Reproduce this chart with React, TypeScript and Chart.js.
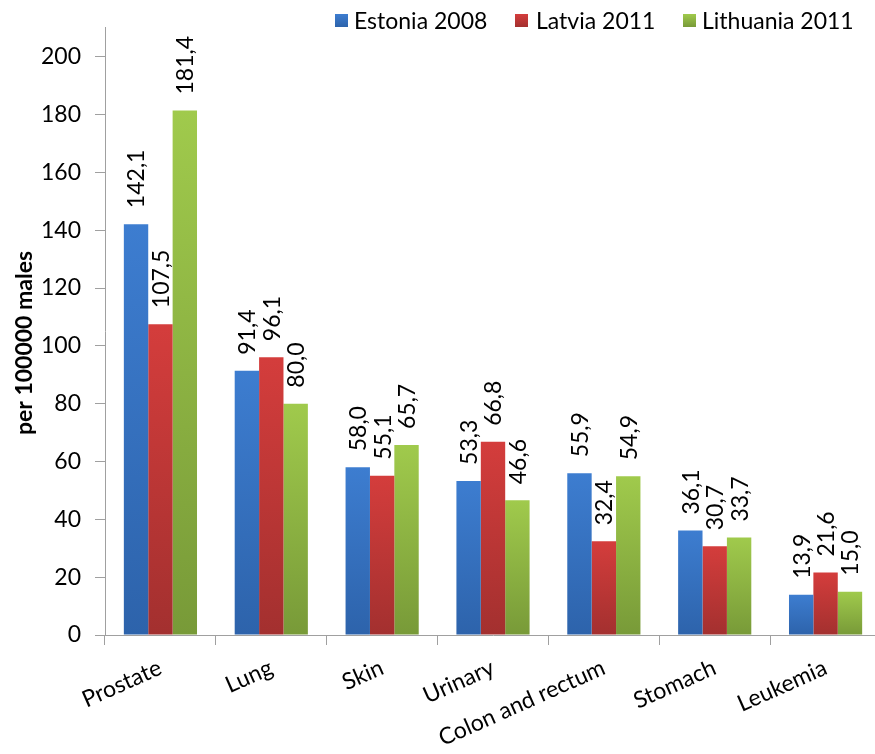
import React, { useEffect, useRef } from "react";
import { Chart, registerables } from "chart.js";

Chart.register(...registerables);

const categories = ["Prostate", "Lung", "Skin", "Urinary", "Colon and rectum", "Stomach", "Leukemia"];
const estonia2008 = [142.1, 91.4, 58.0, 53.3, 55.9, 36.1, 13.9];
const latvia2011 = [107.5, 96.1, 55.1, 66.8, 32.4, 30.7, 21.6];
const lithuania2011 = [181.4, 80.0, 65.7, 46.6, 54.9, 33.7, 15.0];
const seriesNames = ["Estonia 2008", "Latvia 2011", "Lithuania 2011"];
const yTitle = "per 100000 males";

const palettes = [
  { top: "#3d7dd0", bottom: "#2d63ab", mid: "#3570bd" },
  { top: "#d43d3c", bottom: "#a3302f", mid: "#c03636" },
  { top: "#a0ca4c", bottom: "#789a38", mid: "#8cb242" },
];

const FONT = "Lato, 'Open Sans', sans-serif";

function gradientFor(p: { top: string; bottom: string; mid: string }) {
  return (ctx: any) => {
    const chart = ctx.chart;
    if (!chart.chartArea || ctx.type !== "data" || !chart.scales.y) return p.mid;
    const y = chart.scales.y;
    const t = y.getPixelForValue(ctx.raw);
    const b = y.getPixelForValue(0);
    if (!isFinite(t) || !isFinite(b) || t === b) return p.mid;
    const g = chart.ctx.createLinearGradient(0, t, 0, b);
    g.addColorStop(0, p.top);
    g.addColorStop(1, p.bottom);
    return g;
  };
}

const valueLabels = {
  id: "valueLabels",
  afterDatasetsDraw(chart: any) {
    const ctx = chart.ctx;
    ctx.save();
    ctx.font = `23px ${FONT}`;
    ctx.fillStyle = "#000";
    ctx.textAlign = "left";
    ctx.textBaseline = "middle";
    chart.data.datasets.forEach((ds: any, di: number) => {
      const meta = chart.getDatasetMeta(di);
      meta.data.forEach((bar: any, i: number) => {
        const v = ds.data[i] as number;
        const txt = v.toFixed(1).replace(".", ",");
        ctx.save();
        ctx.translate(bar.x + 1, bar.y - 16);
        ctx.rotate(-Math.PI / 2);
        ctx.fillText(txt, 0, 0);
        ctx.restore();
      });
    });
    ctx.restore();
  },
};

const yTitlePlugin = {
  id: "yTitlePlugin",
  afterDraw(chart: any) {
    const ctx = chart.ctx;
    ctx.save();
    ctx.font = `bold 23px ${FONT}`;
    ctx.fillStyle = "#000";
    ctx.textAlign = "center";
    ctx.textBaseline = "middle";
    ctx.translate(25, 343);
    ctx.rotate(-Math.PI / 2);
    ctx.fillText(yTitle, 0, 0);
    ctx.restore();
  },
};

const legendPos = [
  { sq: 335, tx: 354 },
  { sq: 515, tx: 536 },
  { sq: 683, tx: 702 },
];

export default function App() {
  const ref = useRef<HTMLCanvasElement | null>(null);

  useEffect(() => {
    if (!ref.current) return;
    const series = [estonia2008, latvia2011, lithuania2011];
    const chart = new Chart(ref.current, {
      type: "bar",
      data: {
        labels: categories,
        datasets: series.map((d, i) => ({
          label: seriesNames[i],
          data: d,
          backgroundColor: gradientFor(palettes[i]),
          borderWidth: 0,
          categoryPercentage: 0.66,
          barPercentage: 1,
        })),
      },
      options: {
        responsive: false,
        animation: false,
        devicePixelRatio: 1,
        layout: { padding: { top: 24, right: 9, left: 0, bottom: 0 } },
        plugins: {
          legend: { display: false },
          tooltip: { enabled: false },
          title: { display: false },
        },
        scales: {
          y: {
            min: 0,
            max: 210,
            ticks: {
              stepSize: 20,
              font: { family: FONT, size: 23 },
              color: "#000",
              padding: 14,
            },
            afterBuildTicks: (s: any) => {
              s.ticks = s.ticks.filter((t: any) => t.value % 20 === 0);
            },
            afterFit: (s: any) => {
              s.width = 105;
            },
            grid: {
              display: true,
              drawOnChartArea: false,
              drawTicks: true,
              tickLength: 10,
              color: "#a0a0a0",
            },
            border: { display: true, color: "#a0a0a0", width: 1 },
          },
          x: {
            ticks: {
              minRotation: 24,
              maxRotation: 24,
              autoSkip: false,
              font: { family: FONT, size: 23 },
              color: "#000",
              padding: 9,
            },
            afterFit: (s: any) => {
              s.height = 119;
            },
            grid: {
              display: true,
              offset: true,
              drawOnChartArea: false,
              drawTicks: true,
              tickLength: 10,
              color: "#a0a0a0",
            },
            border: { display: true, color: "#a0a0a0", width: 1 },
          },
        },
      },
      plugins: [valueLabels, yTitlePlugin],
    });
    return () => chart.destroy();
  }, []);

  return (
    <div
      style={{
        position: "fixed",
        left: 0,
        top: 0,
        width: 875,
        height: 754,
        overflow: "hidden",
        background: "#fff",
      }}
    >
      <div style={{ position: "relative", width: 890, height: 754 }}>
        <canvas ref={ref} width={890} height={754} style={{ width: 890, height: 754, display: "block" }} />
        {seriesNames.map((name, i) => (
          <React.Fragment key={name}>
            <div
              style={{
                position: "absolute",
                left: legendPos[i].sq,
                top: 14,
                width: 13,
                height: 13,
                background: `linear-gradient(${palettes[i].top}, ${palettes[i].bottom})`,
              }}
            />
            <div
              style={{
                position: "absolute",
                left: legendPos[i].tx,
                top: 5,
                fontFamily: FONT,
                fontSize: 23,
                lineHeight: "30px",
                color: "#000",
                whiteSpace: "nowrap",
              }}
            >
              {name}
            </div>
          </React.Fragment>
        ))}
      </div>
    </div>
  );
}
